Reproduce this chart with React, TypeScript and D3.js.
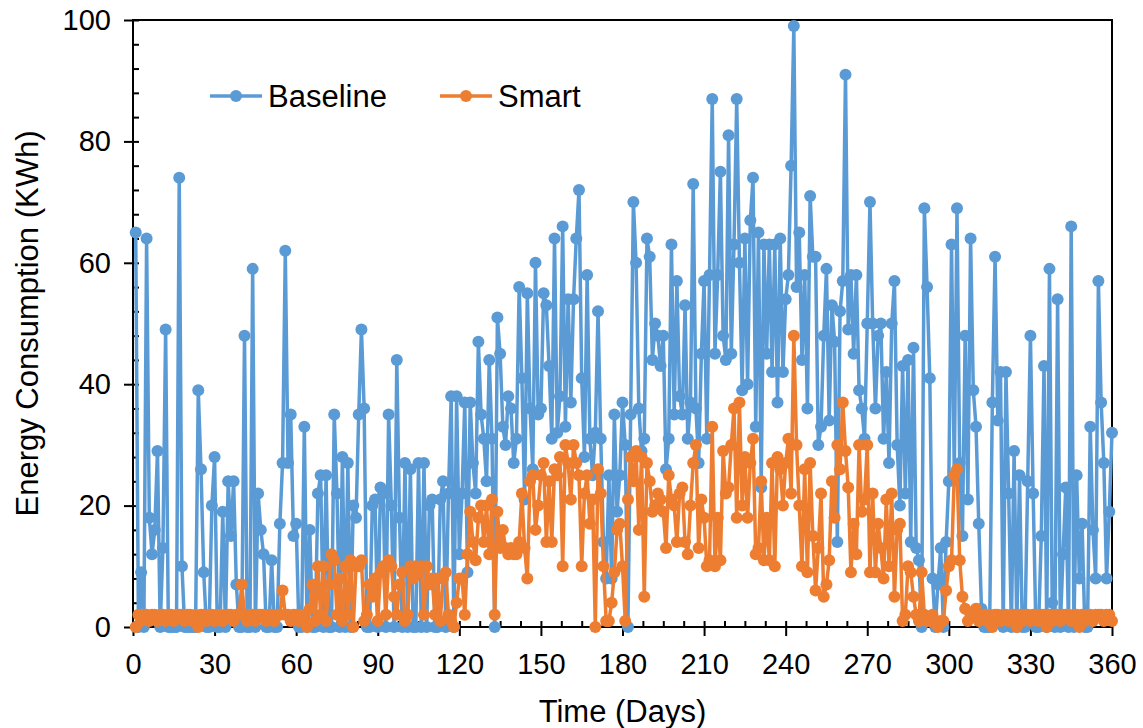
import React, { useEffect, useRef } from 'react';
import * as d3 from 'd3';

const W = 1143;
const H = 728;
const M = { top: 20, right: 31, bottom: 101, left: 133 };
const FONT = '"Liberation Sans", Arial, sans-serif';

const BLUE = '#5B9BD5';
const ORANGE = '#ED7D31';

// daily energy use (KWh), day 1..360
const baseline = [
  65, 0, 9, 0, 64, 18, 12, 16, 29, 0,
  13, 49, 0, 0, 0, 0, 74, 10, 0, 0,
  0, 0, 0, 39, 26, 9, 0, 0, 20, 28,
  0, 0, 19, 0, 24, 15, 24, 7, 0, 0,
  48, 0, 0, 59, 0, 22, 16, 12, 0, 0,
  11, 0, 0, 17, 27, 62, 27, 35, 15, 17,
  0, 0, 33, 0, 16, 0, 0, 22, 25, 0,
  25, 0, 0, 35, 22, 0, 28, 0, 27, 0,
  20, 18, 35, 49, 36, 0, 0, 20, 21, 0,
  23, 22, 0, 35, 20, 0, 44, 18, 0, 27,
  0, 26, 0, 0, 27, 0, 27, 0, 20, 21,
  0, 0, 21, 24, 0, 22, 38, 0, 38, 12,
  22, 37, 9, 37, 27, 22, 47, 35, 31, 24,
  44, 31, 0, 51, 45, 33, 30, 38, 36, 27,
  31, 56, 41, 21, 55, 36, 26, 60, 35, 36,
  55, 53, 43, 31, 64, 32, 38, 66, 33, 54,
  37, 54, 64, 72, 41, 28, 58, 31, 25, 32,
  52, 31, 14, 8, 25, 8, 35, 19, 25, 37,
  30, 0, 35, 70, 60, 36, 29, 31, 64, 61,
  44, 50, 48, 43, 48, 26, 31, 63, 35, 57,
  38, 35, 53, 31, 37, 73, 36, 27, 45, 57,
  31, 58, 87, 45, 58, 75, 48, 44, 81, 45,
  63, 87, 60, 39, 64, 40, 67, 74, 33, 65,
  23, 63, 45, 63, 42, 63, 37, 64, 42, 54,
  58, 76, 99, 56, 65, 44, 58, 36, 71, 61,
  61, 30, 33, 48, 59, 34, 53, 47, 14, 52,
  57, 91, 49, 58, 45, 58, 39, 36, 31, 50,
  70, 50, 36, 48, 50, 31, 42, 27, 50, 57,
  30, 20, 43, 22, 44, 14, 46, 13, 11, 0,
  69, 56, 41, 8, 0, 7, 13, 0, 14, 24,
  63, 25, 69, 27, 15, 48, 21, 64, 39, 33,
  17, 3, 0, 0, 0, 37, 61, 34, 42, 0,
  42, 22, 0, 29, 0, 25, 0, 0, 24, 48,
  22, 0, 0, 15, 43, 0, 59, 4, 0, 54,
  0, 12, 23, 0, 66, 0, 25, 8, 17, 0,
  0, 33, 16, 8, 57, 37, 27, 8, 19, 32,
];

const smart = [
  0, 2, 1, 2, 2, 1, 2, 2, 1, 2,
  2, 1, 2, 2, 1, 2, 2, 2, 1, 2,
  2, 1, 2, 0, 2, 2, 1, 2, 2, 1,
  2, 2, 1, 2, 2, 2, 1, 2, 2, 7,
  2, 1, 2, 2, 1, 2, 2, 2, 1, 2,
  2, 1, 2, 2, 6, 2, 2, 1, 2, 2,
  1, 2, 2, 0, 3, 7, 1, 10, 2, 10,
  1, 7, 12, 11, 2, 8, 1, 10, 2, 11,
  0, 10, 10, 11, 1, 2, 7, 5, 8, 1,
  9, 10, 2, 11, 10, 5, 2, 7, 9, 1,
  2, 10, 8, 10, 9, 10, 2, 10, 7, 8,
  2, 8, 1, 8, 9, 2, 1, 0, 4, 8,
  8, 2, 12, 19, 14, 11, 18, 20, 14, 20,
  12, 21, 2, 19, 13, 16, 13, 12, 13, 12,
  12, 14, 22, 13, 8, 24, 25, 16, 20, 25,
  27, 14, 24, 14, 26, 25, 28, 10, 30, 27,
  21, 30, 27, 25, 10, 22, 25, 17, 21, 0,
  26, 22, 10, 1, 1, 4, 9, 16, 17, 10,
  1, 21, 28, 24, 29, 16, 28, 5, 27, 24,
  19, 20, 22, 21, 19, 13, 25, 21, 20, 14,
  22, 23, 14, 12, 20, 27, 30, 13, 21, 18,
  10, 11, 33, 10, 18, 11, 29, 22, 23, 30,
  36, 18, 37, 20, 28, 18, 27, 31, 12, 13,
  24, 11, 18, 11, 27, 10, 28, 26, 20, 27,
  31, 22, 48, 30, 20, 10, 26, 9, 27, 15,
  6, 13, 22, 5, 7, 11, 24, 18, 30, 26,
  37, 29, 23, 9, 17, 12, 30, 19, 21, 30,
  9, 22, 9, 17, 13, 8, 21, 10, 22, 5,
  16, 17, 1, 2, 10, 9, 5, 2, 1, 9,
  2, 1, 1, 2, 1, 0, 1, 1, 6, 10,
  11, 25, 26, 11, 5, 3, 1, 2, 2, 3,
  1, 2, 2, 1, 2, 0, 2, 2, 1, 2,
  2, 1, 2, 2, 0, 2, 1, 2, 2, 1,
  2, 2, 1, 2, 2, 0, 2, 1, 2, 2,
  1, 2, 2, 2, 1, 2, 2, 0, 2, 1,
  2, 2, 1, 2, 2, 2, 1, 2, 2, 1,
];

const xTicks = [0, 30, 60, 90, 120, 150, 180, 210, 240, 270, 300, 330, 360];
const yTicks = [0, 20, 40, 60, 80, 100];

const series = [
  { name: 'Baseline', values: baseline, color: BLUE, lx: 210 },
  { name: 'Smart', values: smart, color: ORANGE, lx: 440 },
];

const App = () => {
  const svgRef = useRef(null);

  useEffect(() => {
    const svg = d3.select(svgRef.current);
    svg.selectAll('*').remove();

    const x = d3.scaleLinear().domain([0, 360]).range([M.left, W - M.right]);
    const y = d3.scaleLinear().domain([0, 100]).range([H - M.bottom, M.top]);

    // minor ticks (inside)
    svg
      .append('g')
      .attr('transform', `translate(0,${H - M.bottom})`)
      .call(d3.axisBottom(x).tickValues(d3.range(0, 361, 7.5)).tickSize(-6).tickFormat(() => ''))
      .call((g) => g.select('.domain').remove())
      .selectAll('line')
      .attr('stroke', '#000')
      .attr('stroke-width', 2);

    svg
      .append('g')
      .attr('transform', `translate(${M.left},0)`)
      .call(d3.axisLeft(y).tickValues(d3.range(0, 101, 4)).tickSize(-6).tickFormat(() => ''))
      .call((g) => g.select('.domain').remove())
      .selectAll('line')
      .attr('stroke', '#000')
      .attr('stroke-width', 2);

    // major ticks + labels
    const xa = svg
      .append('g')
      .attr('transform', `translate(0,${H - M.bottom})`)
      .call(d3.axisBottom(x).tickValues(xTicks).tickSizeInner(9).tickSizeOuter(0).tickPadding(17));
    xa.select('.domain').remove();
    xa.selectAll('line').attr('stroke', '#000').attr('stroke-width', 2);
    xa.selectAll('text').attr('font-family', FONT).attr('font-size', 29).attr('fill', '#000');

    const ya = svg
      .append('g')
      .attr('transform', `translate(${M.left},0)`)
      .call(d3.axisLeft(y).tickValues(yTicks).tickSizeInner(9).tickSizeOuter(0).tickPadding(13));
    ya.select('.domain').remove();
    ya.selectAll('line').attr('stroke', '#000').attr('stroke-width', 2);
    ya.selectAll('text').attr('font-family', FONT).attr('font-size', 29).attr('fill', '#000');

    // frame
    svg
      .append('rect')
      .attr('x', M.left)
      .attr('y', M.top)
      .attr('width', W - M.left - M.right)
      .attr('height', H - M.top - M.bottom)
      .attr('fill', 'none')
      .attr('stroke', '#000')
      .attr('stroke-width', 2);

    const line = d3
      .line()
      .x((d, i) => x(i + 1))
      .y((d) => y(d));

    series.forEach((s) => {
      const g = svg.append('g');
      g.append('path')
        .datum(s.values)
        .attr('d', line)
        .attr('fill', 'none')
        .attr('stroke', s.color)
        .attr('stroke-width', 3.5)
        .attr('stroke-linejoin', 'round');
      g.selectAll('circle')
        .data(s.values)
        .join('circle')
        .attr('cx', (d, i) => x(i + 1))
        .attr('cy', (d) => y(d))
        .attr('r', 6)
        .attr('fill', s.color);

      // legend
      const lg = svg.append('g').attr('transform', `translate(${s.lx},96)`);
      lg.append('line').attr('x1', 0).attr('x2', 52).attr('stroke', s.color).attr('stroke-width', 3.5);
      lg.append('circle').attr('cx', 26).attr('r', 6).attr('fill', s.color);
      lg.append('text')
        .attr('x', 58)
        .attr('dy', '0.35em')
        .attr('font-family', FONT)
        .attr('font-size', 31)
        .attr('fill', '#000')
        .text(s.name);
    });

    // axis titles
    svg
      .append('text')
      .attr('x', (M.left + W - M.right) / 2)
      .attr('y', 722)
      .attr('text-anchor', 'middle')
      .attr('font-family', FONT)
      .attr('font-size', 31)
      .text('Time (Days)');

    svg
      .append('text')
      .attr('transform', `translate(38,${(M.top + H - M.bottom) / 2}) rotate(-90)`)
      .attr('text-anchor', 'middle')
      .attr('font-family', FONT)
      .attr('font-size', 31)
      .text('Energy Consumption (KWh)');
  }, []);

  return (
    <svg
      ref={svgRef}
      width={W}
      height={H}
      style={{ position: 'absolute', left: 0, top: 0, background: '#fff' }}
    ></svg>
  );
};

export default App;
